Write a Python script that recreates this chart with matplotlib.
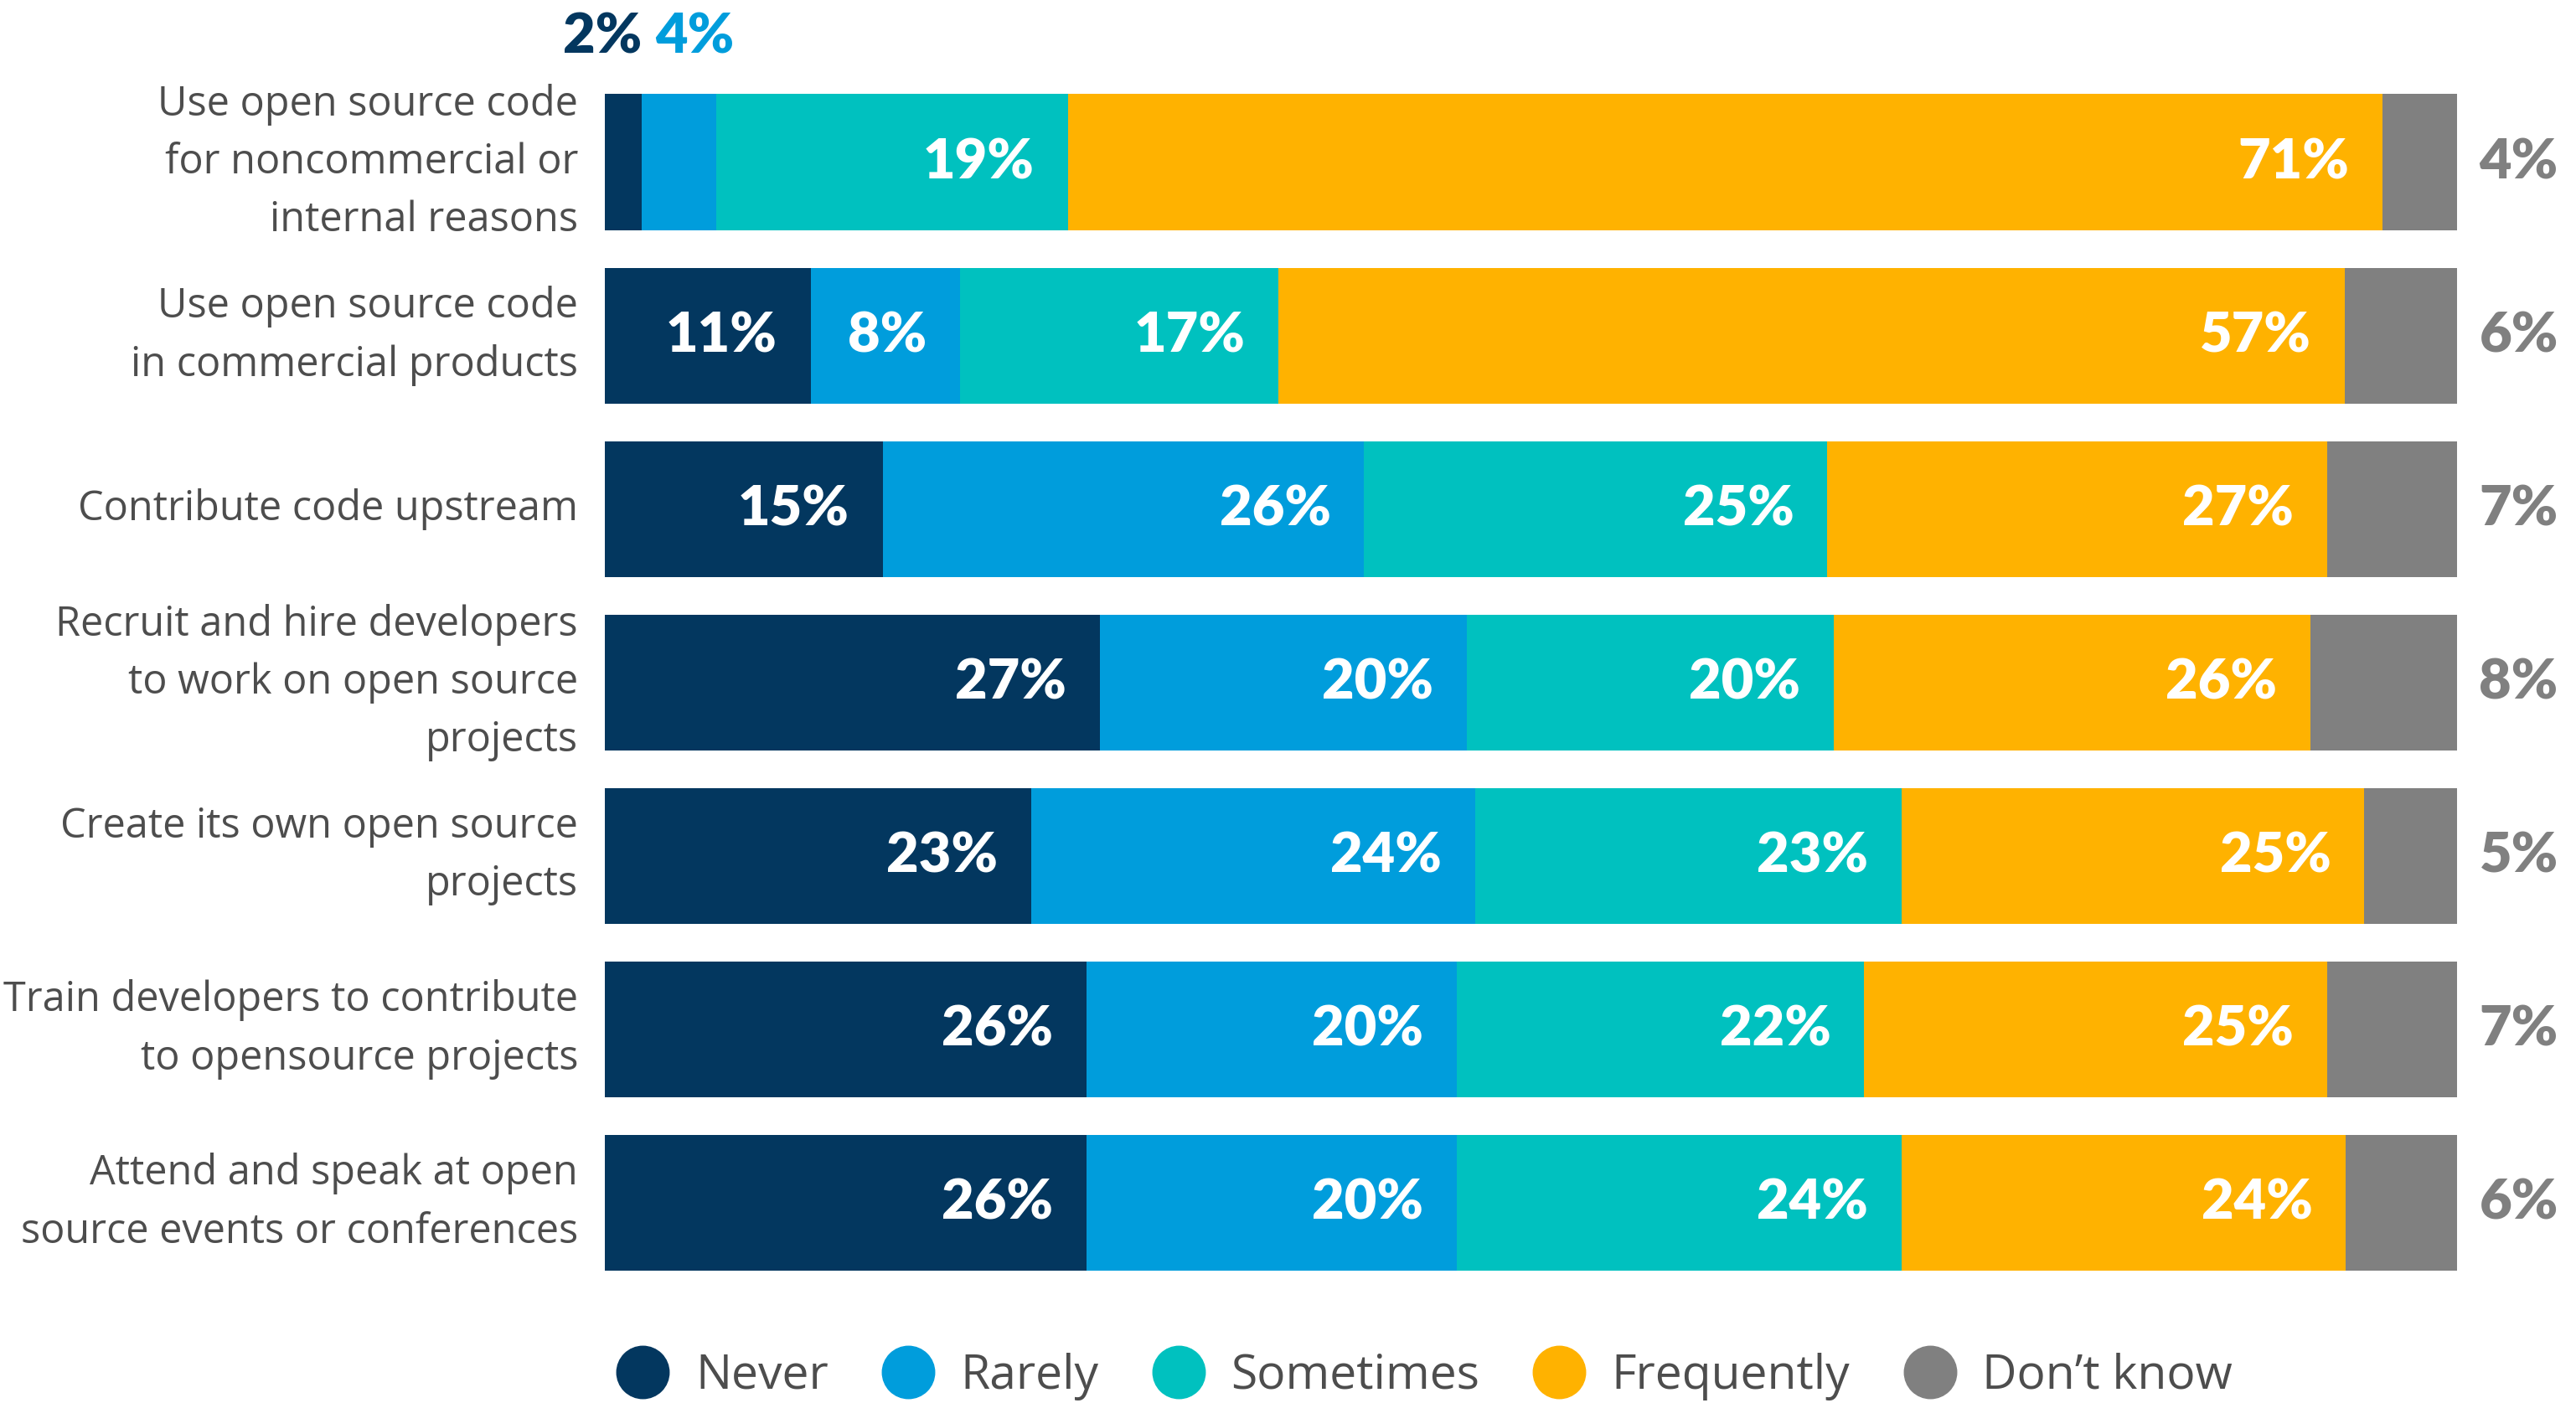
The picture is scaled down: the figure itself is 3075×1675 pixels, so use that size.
import numpy as np
import matplotlib.pyplot as plt
from matplotlib.lines import Line2D

# === DATA ===
categories = [
    "Use open source code\nfor noncommercial or\ninternal reasons",
    "Use open source code\nin commercial products",
    "Contribute code upstream",
    "Recruit and hire developers\nto work on open source\nprojects",
    "Create its own open source\nprojects",
    "Train developers to contribute\nto opensource projects",
    "Attend and speak at open\nsource events or conferences",
]
series = ["Never", "Rarely", "Sometimes", "Frequently", "Don\u2019t know"]
never      = [2, 11, 15, 27, 23, 26, 26]
rarely     = [4, 8, 26, 20, 24, 20, 20]
sometimes  = [19, 17, 25, 20, 23, 22, 24]
frequently = [71, 57, 27, 26, 25, 25, 24]
dont_know  = [4, 6, 7, 8, 5, 7, 6]

colors = ["#03375f", "#009ddc", "#00c1bf", "#ffb200", "#808080"]
TEXT_GRAY = "#4d4d4d"
LABEL_FONT = ["Open Sans", "DejaVu Sans"]
BOLD_FONT = ["Lato", "DejaVu Sans"]
BOLD_W = "heavy"

# === PREP ===
vals = np.array([never, rarely, sometimes, frequently, dont_know], dtype=float).T
shares = vals / vals.sum(axis=1, keepdims=True) * 100
lefts = np.cumsum(shares, axis=1) - shares
y = np.arange(len(categories))

# === PLOT ===
fig = plt.figure(figsize=(30.75, 16.75), dpi=100)
ax = fig.add_axes([0.2348, 0.0809, 0.7190, 0.8651])

for j in range(len(series)):
    ax.barh(y, shares[:, j], left=lefts[:, j], height=0.787, color=colors[j], linewidth=0)

pad = 1.8
for i in range(len(categories)):
    small = []
    for j in range(4):
        v = vals[i, j]
        end = lefts[i, j] + shares[i, j]
        if v < 5:
            small.append(j)
            continue
        ax.text(end - pad, i, f"{int(v)}%", ha="right", va="center", color="white",
                fontsize=48, fontweight=BOLD_W, family=BOLD_FONT)
    # tiny segments get their labels above the bar
    for k, j in enumerate(small):
        end = lefts[i, j] + shares[i, j]
        if k == 0:
            ax.text(end, i - 0.63, f"{int(vals[i, j])}%", ha="right", va="baseline",
                    color=colors[j], fontsize=48, fontweight=BOLD_W, family=BOLD_FONT)
        else:
            ax.text(lefts[i, j] + 0.7, i - 0.63, f"{int(vals[i, j])}%", ha="left", va="baseline",
                    color=colors[j], fontsize=48, fontweight=BOLD_W, family=BOLD_FONT)
    # don't know on the right
    ax.text(101.2, i, f"{int(vals[i, 4])}%", ha="left", va="center", color=colors[4],
            fontsize=48, fontweight=BOLD_W, family=BOLD_FONT)
    # category labels
    ax.text(-1.45, i, categories[i], ha="right", va="center", color=TEXT_GRAY,
            fontsize=35, family=LABEL_FONT, linespacing=1.53)

ax.set_xlim(0, 100)
ax.set_ylim(len(categories) - 0.5, -0.5)
ax.axis("off")

handles = [Line2D([], [], marker="o", linestyle="", markersize=45, color=c) for c in colors]
fig.legend(handles, series, loc="center", bbox_to_anchor=(0.553, 0.019), ncol=5,
           frameon=False, handlelength=1.1, handletextpad=0.55, columnspacing=1.12,
           borderpad=0, prop={"family": LABEL_FONT, "size": 41}, labelcolor=TEXT_GRAY)

plt.savefig("out.png", dpi=100)
